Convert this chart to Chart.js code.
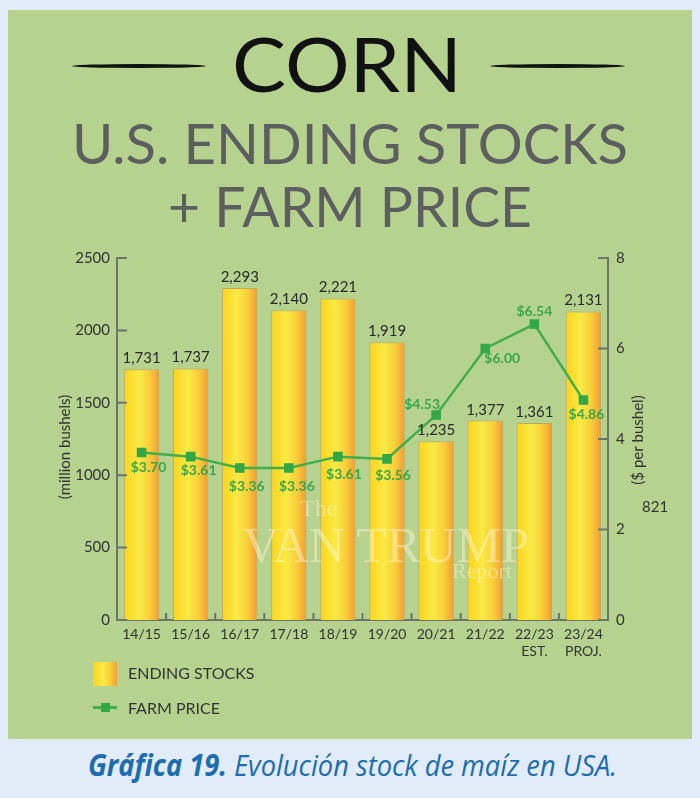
<!DOCTYPE html>
<html><head><meta charset="utf-8">
<script src="https://cdn.jsdelivr.net/npm/chart.js@4/dist/chart.umd.min.js"></script>
<style>
html,body{margin:0;padding:0;background:#e2ecf8;width:700px;height:798px;overflow:hidden;font-family:Lato,sans-serif;}
#panel{position:absolute;left:8px;top:10px;width:684px;height:729px;background:#b6d28f;}
.t{position:absolute;white-space:nowrap;line-height:1;transform-origin:0 0;}
#corn{font-size:75px;color:#111;top:26px;}
#l1{font-size:57px;color:#5d5e5f;top:114px;}
#l2{font-size:57px;color:#5d5e5f;top:177px;}
.rule{position:absolute;height:4px;background:#111;border-radius:50%;top:64px;}
#chartbox{position:absolute;left:0;top:230px;width:700px;height:440px;}
.leg{position:absolute;font-size:16px;color:#333;line-height:1;}
#cap{font-family:"Open Sans",sans-serif;font-style:italic;font-size:30px;color:#1c6cb3;top:750px;}
#cap b{font-weight:700;}
.wm{position:absolute;font-family:"Liberation Serif",serif;color:rgba(255,248,215,0.45);line-height:1;white-space:nowrap;}
#n821{position:absolute;left:642px;top:499px;font-size:15px;color:#333;line-height:1;}
</style></head>
<body>
<div id="panel"></div>
<div class="rule" style="left:72px;width:134px"></div>
<div class="rule" style="left:490px;width:135px"></div>
<div class="t" id="corn" data-x="232" data-w="230">CORN</div>
<div class="t" id="l1" data-x="72" data-w="556">U.S. ENDING STOCKS</div>
<div class="t" id="l2" data-x="168" data-w="364">+ FARM PRICE</div>
<div id="chartbox"><canvas id="c" width="700" height="440"></canvas></div>
<div class="wm" style="left:300px;top:496px;font-size:24px">The</div>
<div class="wm" style="left:243px;top:520px;font-size:50px">VAN TRUMP</div>
<div class="wm" style="left:452px;top:560px;font-size:22px">Report</div>
<div id="n821">821</div>
<div id="legbox" style="position:absolute;left:93px;top:662px;width:24px;height:24px;"></div>
<div class="leg" style="left:128px;top:665px">ENDING STOCKS</div>
<div style="position:absolute;left:93px;top:706px;width:24px;height:3px;background:#3fae4b"></div>
<div style="position:absolute;left:101px;top:703px;width:9px;height:9px;background:#32a746"></div>
<div class="leg" style="left:128px;top:700px">FARM PRICE</div>
<div class="t" id="cap" data-x="88" data-w="529"><b>Gráfica 19.</b> Evolución stock de maíz en USA.</div>
<script>
const categories = [["14/15"],["15/16"],["16/17"],["17/18"],["18/19"],["19/20"],["20/21"],["21/22"],["22/23","EST."],["23/24","PROJ."]];
const endingStocks = [1731,1737,2293,2140,2221,1919,1235,1377,1361,2131];
const farmPrice = [3.70,3.61,3.36,3.36,3.61,3.56,4.53,6.00,6.54,4.86];
const stockLabels = ["1,731","1,737","2,293","2,140","2,221","1,919","1,235","1,377","1,361","2,131"];
const priceLabels = ["$3.70","$3.61","$3.36","$3.36","$3.61","$3.56","$4.53","$6.00","$6.54","$4.86"];
const priceLabelOffsets = [[7,15],[8,14],[7,19],[8,19],[6,18],[6,17],[-14,-11],[17,10],[0,-13],[3,14]];

document.querySelectorAll('.t').forEach(el=>{
  const w = el.getBoundingClientRect().width;
  const tw = +el.dataset.w;
  el.style.left = el.dataset.x+'px';
  el.style.transform = 'scaleX('+(tw/w)+')';
});

const STOPS = [[0,'#fdd31a'],[0.42,'#f9ea45'],[0.72,'#f9cf3a'],[1,'#f29a35']];
document.getElementById('legbox').style.background =
  'linear-gradient(to right,'+STOPS.map(s=>s[1]+' '+(s[0]*100)+'%').join(',')+')';

const BAR_PCT = 0.72;
const AXIS = '#6c7668';

const decor = {
  id:'decor',
  afterDraw(chart){
    const {ctx, chartArea:a, scales:{x,y,y1}} = chart;
    ctx.save();
    ctx.strokeStyle = AXIS; ctx.lineWidth = 2;
    ctx.beginPath();
    y.ticks.forEach(t=>{const p=y.getPixelForValue(t.value); ctx.moveTo(a.left,p); ctx.lineTo(a.left+10,p);});
    y1.ticks.forEach(t=>{const p=y1.getPixelForValue(t.value); ctx.moveTo(a.right-10,p); ctx.lineTo(a.right,p);});
    for(let i=1;i<categories.length;i++){
      const p=(x.getPixelForValue(i-1)+x.getPixelForValue(i))/2;
      ctx.moveTo(p,a.bottom); ctx.lineTo(p,a.bottom-7);
    }
    ctx.stroke();
    ctx.fillStyle='#333'; ctx.font='15px Lato'; ctx.textAlign='center'; ctx.textBaseline='middle';
    ctx.save(); ctx.translate(a.left-52, a.top+189); ctx.rotate(-Math.PI/2); ctx.fillText('(million bushels)',0,0); ctx.restore();
    ctx.save(); ctx.translate(a.right+30, a.top+182); ctx.rotate(-Math.PI/2); ctx.fillText('($ per bushel)',0,0); ctx.restore();
    ctx.restore();
  },
  afterDatasetsDraw(chart){
    const ctx = chart.ctx;
    ctx.save();
    ctx.font='15px Lato'; ctx.fillStyle='#2a2a2a'; ctx.textAlign='center'; ctx.textBaseline='alphabetic';
    chart.getDatasetMeta(1).data.forEach((b,i)=>ctx.fillText(stockLabels[i], b.x, b.y-6));
    ctx.font='bold 14px Lato'; ctx.fillStyle='#39a84b'; ctx.textBaseline='middle';
    chart.getDatasetMeta(0).data.forEach((p,i)=>{
      const o=priceLabelOffsets[i]; ctx.fillText(priceLabels[i], p.x+o[0], p.y+o[1]);
    });
    ctx.restore();
  }
};

new Chart(document.getElementById('c'), {
  type:'bar',
  data:{
    labels:categories,
    datasets:[
      {type:'line', label:'FARM PRICE', data:farmPrice, yAxisID:'y1', borderColor:'#3fae4b', borderWidth:2.5,
       pointStyle:'rect', pointRadius:5, pointBackgroundColor:'#32a746', pointBorderColor:'#32a746', tension:0, order:0},
      {type:'bar', label:'ENDING STOCKS', data:endingStocks, yAxisID:'y', order:1,
       barPercentage:BAR_PCT, categoryPercentage:1, borderWidth:1, borderColor:'rgba(200,150,70,0.7)',
       backgroundColor(c){
         const chart=c.chart;
         if(!chart.chartArea || c.dataIndex===undefined) return '#f8e040';
         const xs=chart.scales.x;
         const cx=xs.getPixelForValue(c.dataIndex);
         const w=xs.width/categories.length*BAR_PCT;
         const g=chart.ctx.createLinearGradient(cx-w/2,0,cx+w/2,0);
         STOPS.forEach(s=>g.addColorStop(s[0],s[1]));
         return g;
       }}
    ]
  },
  options:{
    responsive:false, animation:false, devicePixelRatio:1,
    layout:{padding:{left:57,right:52,top:28,bottom:10}},
    plugins:{legend:{display:false}, tooltip:{enabled:false}},
    scales:{
      x:{grid:{display:false,drawTicks:false}, border:{display:true,color:AXIS,width:2},
         ticks:{color:'#333',font:{family:'Lato',size:14},padding:6,maxRotation:0,autoSkip:false},
         afterFit(s){s.height=40;}},
      y:{position:'left',min:0,max:2500,grid:{display:false,drawTicks:false},border:{display:true,color:AXIS,width:2},
         ticks:{stepSize:500,color:'#333',font:{family:'Lato',size:15},padding:7,callback:v=>String(v)},
         afterFit(s){s.width=60;}},
      y1:{position:'right',min:0,max:8,grid:{display:false,drawTicks:false},border:{display:true,color:AXIS,width:2},
         ticks:{stepSize:2,color:'#333',font:{family:'Lato',size:15},padding:8,callback:v=>String(v)},
         afterFit(s){s.width=40;}}
    }
  },
  plugins:[decor]
});
</script>
</body></html>
